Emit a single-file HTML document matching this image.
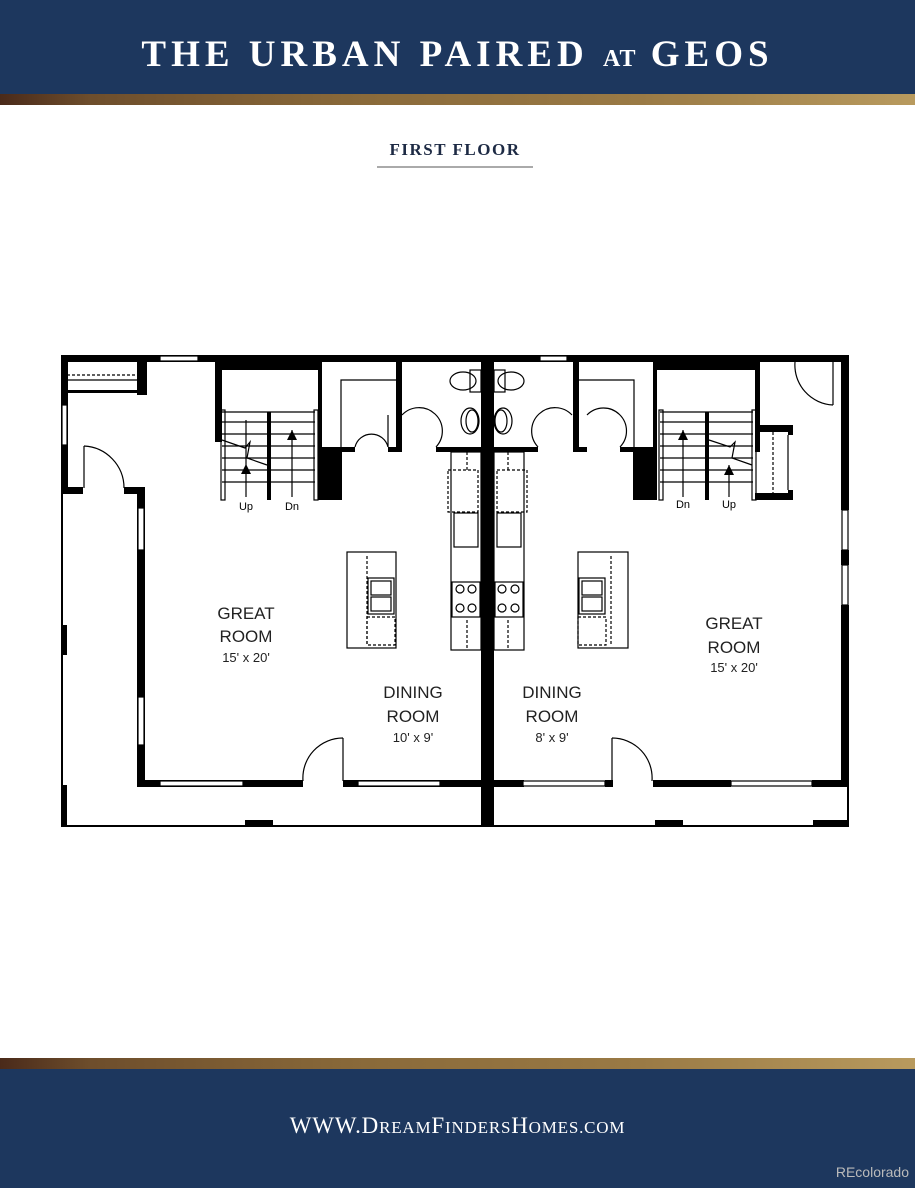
<!DOCTYPE html>
<html><head><meta charset="utf-8"><style>
html,body{margin:0;padding:0;background:#fff;}
body{width:915px;height:1188px;position:relative;overflow:hidden;font-family:"Liberation Serif",serif;}
.hdr{position:absolute;left:0;top:0;width:915px;height:94px;background:#1d375e;}
.gold{position:absolute;left:0;width:915px;height:11px;background:linear-gradient(90deg,#4a2a1a 0%,#6e4e2c 10%,#8a6a3a 40%,#9a7a45 70%,#b89a5e 100%);}
.title{position:absolute;left:0;width:915px;top:33px;text-align:center;color:#fff;font-weight:bold;font-size:37px;letter-spacing:5px;}
.title small{font-size:24px;letter-spacing:1px;}
.ff{position:absolute;left:377px;width:156px;top:140px;text-align:center;color:#1d2a44;font-weight:bold;font-size:17px;letter-spacing:1.5px;}
.ul{position:absolute;left:377px;width:156px;top:166px;height:2px;background:#aaa;}
.ftr{position:absolute;left:0;top:1069px;width:915px;height:119px;background:#1d375e;}
.url{position:absolute;left:0;width:915px;top:1113px;text-align:center;color:#fff;font-size:23px;letter-spacing:0.8px;}
.rc{position:absolute;right:6px;top:1164px;color:#bbb;font-family:"Liberation Sans",sans-serif;font-size:14px;}
svg{position:absolute;left:0;top:0;}
</style></head><body>
<div class="hdr"></div>
<div class="title">THE URBAN PAIRED <small>AT</small> GEOS</div>
<div class="gold" style="top:94px"></div>
<div class="ff">FIRST FLOOR</div>
<div class="ul"></div>

<svg width="915" height="1188" viewBox="0 0 915 1188" font-family="Liberation Sans, sans-serif">
<g fill="#000">
 <rect x="61" y="355" width="788" height="7"/>
 <rect x="61" y="355" width="7" height="139"/>
 <rect x="61" y="494" width="2" height="333"/>
 <rect x="61" y="625" width="6" height="30"/>
 <rect x="61" y="785" width="6" height="42"/>
 <rect x="61" y="825" width="788" height="2"/>
 <rect x="245" y="820" width="28" height="7"/>
 <rect x="655" y="820" width="28" height="7"/>
 <rect x="813" y="820" width="36" height="7"/>
 <rect x="137" y="362" width="10" height="33"/>
 <rect x="67" y="390" width="80" height="3"/>
 <rect x="61" y="487" width="22" height="7"/>
 <rect x="124" y="487" width="21" height="7"/>
 <rect x="137" y="487" width="8" height="300"/>
 <rect x="137" y="780" width="166" height="7"/>
 <rect x="343" y="780" width="138" height="7"/>
 <rect x="481" y="355" width="13" height="472"/>
 <rect x="215" y="362" width="106" height="8"/>
 <rect x="215" y="362" width="7" height="80"/>
 <rect x="267" y="412" width="4" height="88"/>
 <rect x="318" y="362" width="4" height="90"/>
 <rect x="318" y="447" width="24" height="53"/>
 <rect x="322" y="447" width="33" height="5"/>
 <rect x="388" y="447" width="14" height="5"/>
 <rect x="436" y="447" width="45" height="5"/>
 <rect x="396" y="362" width="6" height="90"/>
 <rect x="653" y="362" width="106" height="8"/>
 <rect x="653" y="362" width="4" height="90"/>
 <rect x="633" y="447" width="24" height="53"/>
 <rect x="705" y="412" width="4" height="88"/>
 <rect x="755" y="362" width="5" height="90"/>
 <rect x="755" y="425" width="38" height="7"/>
 <rect x="755" y="493" width="38" height="7"/>
 <rect x="788" y="425" width="5" height="10"/>
 <rect x="788" y="490" width="5" height="10"/>
 <rect x="573" y="362" width="6" height="90"/>
 <rect x="494" y="447" width="44" height="5"/>
 <rect x="573" y="447" width="14" height="5"/>
 <rect x="620" y="447" width="15" height="5"/>
 <rect x="841" y="355" width="8" height="155"/>
 <rect x="841" y="550" width="8" height="15"/>
 <rect x="841" y="605" width="8" height="182"/>
 <rect x="847" y="787" width="2" height="40"/>
 <rect x="494" y="780" width="30" height="7"/>
 <rect x="605" y="780" width="8" height="7"/>
 <rect x="653" y="780" width="78" height="7"/>
 <rect x="812" y="780" width="37" height="7"/>
</g>
<g fill="none" stroke="#000" stroke-width="1.2">
 <rect x="160" y="356" width="38" height="5" fill="#fff"/>
 <rect x="540" y="356" width="27" height="5" fill="#fff"/>
 <rect x="62" y="405" width="5" height="40" fill="#fff"/>
 <rect x="138" y="508" width="6" height="42" fill="#fff"/>
 <rect x="138" y="697" width="6" height="48" fill="#fff"/>
 <rect x="160" y="781" width="83" height="5" fill="#fff"/>
 <rect x="358" y="781" width="82" height="5" fill="#fff"/>
 <rect x="523" y="781" width="82" height="5" fill="#fff"/>
 <rect x="731" y="781" width="81" height="5" fill="#fff"/>
 <rect x="842" y="510" width="6" height="40" fill="#fff"/>
 <rect x="842" y="565" width="6" height="40" fill="#fff"/>
 <line x1="67" y1="375" x2="137" y2="375" stroke-dasharray="3,2"/>
 <line x1="67" y1="380" x2="137" y2="380"/>
 <line x1="84" y1="446" x2="84" y2="488"/><path d="M84,446 A42,42 0 0 1 124,488"/>
 <line x1="343" y1="738" x2="343" y2="781"/><path d="M343,738 A40,40 0 0 0 303,781"/>
 <line x1="612" y1="738" x2="612" y2="781"/><path d="M612,738 A40,40 0 0 1 652,781"/>
 <line x1="833" y1="362" x2="833" y2="405"/><path d="M795,362 A40,40 0 0 0 833,405"/>
 <path d="M355,447 A17,17 0 0 1 388,447"/><line x1="388" y1="415" x2="388" y2="447"/>
 <path d="M402,415 A17,17 0 0 1 436,447"/>
 <path d="M538,447 A17,17 0 0 1 572,415"/>
 <path d="M587,415 A17,17 0 0 1 620,447"/>
 <polyline points="341,447 341,380 396,380"/>
 <polyline points="634,447 634,380 579,380"/>
 <rect x="221" y="410" width="4" height="90"/><rect x="314" y="410" width="4" height="90"/>
 <rect x="659" y="410" width="4" height="90"/><rect x="752" y="410" width="4" height="90"/>
 <line x1="246" y1="420" x2="246" y2="497"/><line x1="292" y1="430" x2="292" y2="497"/>
 <line x1="683" y1="430" x2="683" y2="497"/><line x1="729" y1="465" x2="729" y2="497"/>
 <polyline points="222,440 245,448 250,442 247,458 267,465"/>
 <polyline points="709,440 730,447 735,442 732,458 752,465"/>
 <line x1="773" y1="432" x2="773" y2="493" stroke-dasharray="3,2"/>
 <line x1="788" y1="435" x2="788" y2="490"/>
 <ellipse cx="463" cy="381" rx="13" ry="9"/><rect x="470" y="370" width="11" height="22"/>
 <ellipse cx="470" cy="421" rx="9" ry="13"/><ellipse cx="472" cy="421" rx="6" ry="11"/>
 <ellipse cx="511" cy="381" rx="13" ry="9"/><rect x="494" y="370" width="11" height="22"/>
 <ellipse cx="503" cy="421" rx="9" ry="13"/><ellipse cx="501" cy="421" rx="6" ry="11"/>
 <rect x="451" y="452" width="30" height="198"/>
 <rect x="448" y="470" width="30" height="42" stroke-dasharray="3,2"/>
 <rect x="454" y="513" width="24" height="34"/>
 <rect x="452" y="582" width="28" height="35"/>
 <circle cx="460" cy="589" r="4"/><circle cx="472" cy="589" r="4"/><circle cx="460" cy="608" r="4"/><circle cx="472" cy="608" r="4"/>
 <line x1="467" y1="452" x2="467" y2="470" stroke-dasharray="3,2"/>
 <line x1="467" y1="620" x2="467" y2="650" stroke-dasharray="3,2"/>
 <rect x="494" y="452" width="30" height="198"/>
 <rect x="497" y="470" width="30" height="42" stroke-dasharray="3,2"/>
 <rect x="497" y="513" width="24" height="34"/>
 <rect x="495" y="582" width="28" height="35"/>
 <circle cx="502" cy="589" r="4"/><circle cx="515" cy="589" r="4"/><circle cx="502" cy="608" r="4"/><circle cx="515" cy="608" r="4"/>
 <line x1="508" y1="452" x2="508" y2="470" stroke-dasharray="3,2"/>
 <line x1="508" y1="620" x2="508" y2="650" stroke-dasharray="3,2"/>
 <rect x="347" y="552" width="49" height="96"/>
 <line x1="367" y1="556" x2="367" y2="645" stroke-dasharray="3,2"/>
 <rect x="368" y="578" width="26" height="36"/><rect x="371" y="581" width="20" height="14"/><rect x="371" y="597" width="20" height="14"/>
 <rect x="367" y="617" width="28" height="28" stroke-dasharray="3,2"/>
 <rect x="578" y="552" width="50" height="96"/>
 <line x1="611" y1="556" x2="611" y2="645" stroke-dasharray="3,2"/>
 <rect x="579" y="578" width="26" height="36"/><rect x="582" y="581" width="20" height="14"/><rect x="582" y="597" width="20" height="14"/>
 <rect x="578" y="617" width="28" height="28" stroke-dasharray="3,2"/>
</g>
<g stroke="#000" stroke-width="1.2">
 <line x1="222" y1="422" x2="315" y2="422"/><line x1="222" y1="434" x2="315" y2="434"/><line x1="222" y1="446" x2="315" y2="446"/><line x1="222" y1="458" x2="315" y2="458"/><line x1="222" y1="470" x2="315" y2="470"/><line x1="222" y1="482" x2="315" y2="482"/>
 <line x1="660" y1="422" x2="753" y2="422"/><line x1="660" y1="434" x2="753" y2="434"/><line x1="660" y1="446" x2="753" y2="446"/><line x1="660" y1="458" x2="753" y2="458"/><line x1="660" y1="470" x2="753" y2="470"/><line x1="660" y1="482" x2="753" y2="482"/>
 <line x1="222" y1="412" x2="315" y2="412"/><line x1="660" y1="412" x2="753" y2="412"/>
</g>
<g fill="#000">
 <polygon points="246,464 241,474 251,474"/><polygon points="292,430 287,440 297,440"/>
 <polygon points="683,430 678,440 688,440"/><polygon points="729,465 724,475 734,475"/>
</g>
<g font-size="11" fill="#000" text-anchor="middle">
 <text x="246" y="510">Up</text><text x="292" y="510">Dn</text>
 <text x="683" y="508">Dn</text><text x="729" y="508">Up</text>
</g>
<g font-size="17" fill="#222" text-anchor="middle">
 <text x="246" y="619">GREAT</text><text x="246" y="642">ROOM</text>
 <text x="413" y="698">DINING</text><text x="413" y="722">ROOM</text>
 <text x="552" y="698">DINING</text><text x="552" y="722">ROOM</text>
 <text x="734" y="629">GREAT</text><text x="734" y="653">ROOM</text>
</g>
<g font-size="13" fill="#222" text-anchor="middle">
 <text x="246" y="662">15' x 20'</text><text x="413" y="742">10' x 9'</text>
 <text x="552" y="742">8' x 9'</text><text x="734" y="672">15' x 20'</text>
</g>
</svg>

<div class="gold" style="top:1058px"></div>
<div class="ftr"></div>
<div class="url">WWW.D<span style="font-size:17px">REAM</span>F<span style="font-size:17px">INDERS</span>H<span style="font-size:17px">OMES.COM</span></div>
<div class="rc">REcolorado</div>
</body></html>
